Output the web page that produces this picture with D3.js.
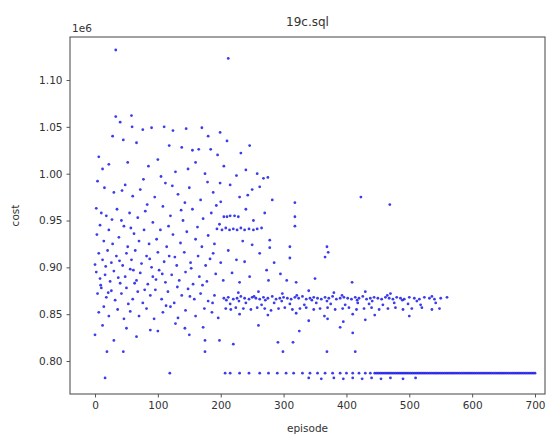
<!DOCTYPE html>
<html>
<head>
<meta charset="utf-8">
<script src="https://cdn.jsdelivr.net/npm/d3@7"></script>
<style>
  html, body { margin: 0; padding: 0; background: #fff; }
  svg { display: block; }
  text { font-family: "DejaVu Sans", sans-serif; fill: #333; }
</style>
</head>
<body>
<svg id="chart" width="547" height="439"></svg>
<script>
// Query plan cost per training episode, in millions (axis offset 1e6).
const chartTitle = "19c.sql";
const xLabel = "episode";
const yLabel = "cost";
const xTicks = [0, 100, 200, 300, 400, 500, 600, 700];
const yTicks = [0.80, 0.85, 0.90, 0.95, 1.00, 1.05, 1.10];

// Early exploration: widely scattered costs.
const exploration = [
  [33,1.132],[212,1.123],
  [33,1.061],[58,1.062],[40,1.055],[59,1.050],[76,1.047],[90,1.049],[110,1.050],[124,1.046],[145,1.048],[170,1.049],[180,1.040],[199,1.044],[210,1.035],
  [28,1.040],[45,1.036],[66,1.033],[118,1.030],[138,1.028],[155,1.025],[165,1.026],[184,1.026],[195,1.020],[232,1.022],[246,1.030],
  [6,1.018],[12,1.005],[22,1.010],[52,1.012],[85,1.008],[100,1.015],[128,1.002],[148,1.005],[160,1.012],[175,1.000],[205,1.008],[225,0.998],[240,1.004],[258,1.000],[268,0.995],[105,0.997],[275,0.996],
  [4,0.992],[15,0.985],[30,0.980],[48,0.988],[60,0.976],[72,0.983],[95,0.975],[112,0.990],[132,0.978],[150,0.985],[168,0.972],[188,0.980],[199,0.990],[200,0.970],[215,0.988],[230,0.975],[250,0.983],[262,0.986],[282,0.972],[318,0.969],[423,0.975],[469,0.967],
  [2,0.963],[10,0.958],[18,0.955],[35,0.962],[42,0.950],[55,0.958],[68,0.953],[80,0.960],[92,0.948],[108,0.965],[120,0.955],[140,0.950],[155,0.962],[172,0.952],[185,0.958],[198,0.946],[205,0.954],[210,0.954],[215,0.955],[222,0.955],[228,0.954],[240,0.962],[252,0.950],[270,0.958],[318,0.954],
  [194,0.941],[202,0.940],[208,0.942],[214,0.940],[220,0.941],[226,0.940],[232,0.942],[238,0.940],[245,0.941],[252,0.940],[258,0.941],[265,0.942],[318,0.944],
  [3,0.935],[8,0.945],[14,0.928],[22,0.940],[28,0.925],[38,0.932],[46,0.944],[52,0.922],[62,0.936],[70,0.928],[78,0.940],[86,0.925],[98,0.930],[104,0.940],[114,0.922],[124,0.935],[136,0.926],[146,0.938],[160,0.930],[170,0.922],[180,0.934],[190,0.925],[235,0.928],[250,0.924],[278,0.929],[278,0.921],[310,0.922],[369,0.922],
  [0,0.903],[6,0.915],[12,0.908],[20,0.918],[26,0.905],[34,0.912],[44,0.902],[50,0.915],[58,0.908],[64,0.918],[74,0.904],[82,0.912],[90,0.900],[100,0.916],[110,0.906],[118,0.912],[130,0.902],[142,0.916],[152,0.905],[164,0.912],[176,0.902],[188,0.915],[200,0.905],[212,0.918],[225,0.908],[238,0.906],[262,0.915],[285,0.905],[310,0.910],[366,0.911],[371,0.916],
  [2,0.895],[8,0.888],[16,0.892],[24,0.885],[30,0.896],[40,0.883],[48,0.890],[56,0.898],[66,0.886],[72,0.894],[84,0.882],[92,0.890],[102,0.897],[112,0.884],[122,0.892],[134,0.886],[144,0.895],[156,0.882],[166,0.890],[178,0.885],[192,0.893],[204,0.886],[218,0.894],[230,0.884],[246,0.890],[273,0.897],[276,0.886],[295,0.893],[305,0.886],[320,0.884],[350,0.888],[409,0.884],
  [4,0.872],[10,0.878],[18,0.868],[26,0.875],[32,0.865],[42,0.872],[50,0.878],[60,0.866],[68,0.874],[76,0.862],[88,0.870],[96,0.876],[106,0.866],[116,0.874],[126,0.862],[138,0.870],[148,0.877],[158,0.866],[168,0.872],[180,0.864],[190,0.870],
  [6,0.852],[14,0.858],[22,0.848],[36,0.855],[46,0.845],[56,0.853],[70,0.848],[82,0.856],[94,0.845],[108,0.852],[120,0.858],[132,0.846],[144,0.854],[160,0.848],[174,0.856],[186,0.852],[196,0.846],
  [12,0.838],[0,0.828],[30,0.822],[50,0.835],[66,0.826],[88,0.833],[100,0.832],[128,0.840],[143,0.835],[150,0.828],[172,0.836],[175,0.822],[198,0.822],[220,0.818],[260,0.838],[291,0.820],[315,0.820],[325,0.832],[390,0.836],[410,0.830],
  [19,0.810],[45,0.810],[175,0.810],[299,0.810],[369,0.810],[414,0.810],
  [16,0.782],[119,0.787],[207,0.787],
  // extra scatter in the crowded early region
  [9,0.881],[21,0.873],[37,0.889],[53,0.861],[63,0.883],[79,0.876],[97,0.887],[113,0.859],[131,0.879],[151,0.869],[171,0.881],[187,0.862],
  [17,0.901],[39,0.907],[61,0.897],[87,0.909],[107,0.893],[127,0.911],[153,0.899],[183,0.909],
  [27,0.951],[57,0.942],[83,0.967],[117,0.944],[137,0.961],[163,0.943],[193,0.966],
  [43,0.982],[77,0.994],[123,0.987],[143,0.969],[179,0.991],[243,0.977]
];

// Plateau: the dense band around 0.85–0.87.
const plateau = [
  [205,0.867],[212,0.868],[220,0.866],[226,0.867],[232,0.869],[238,0.867],[245,0.866],[250,0.868],[256,0.867],[262,0.866],[268,0.868],[275,0.867],[282,0.869],[288,0.866],[294,0.867],[300,0.868],[306,0.867],[312,0.866],[318,0.868],[324,0.867],[330,0.869],[336,0.866],[342,0.867],[348,0.868],[354,0.867],[360,0.866],[366,0.868],[372,0.867],[378,0.869],[384,0.866],[390,0.867],[396,0.868],[402,0.867],[408,0.866],[414,0.868],[420,0.867],[426,0.869],[432,0.866],[438,0.867],[444,0.868],[450,0.867],[456,0.866],[462,0.868],[468,0.867],[474,0.866],[480,0.868],[486,0.867],[492,0.866],[500,0.868],[508,0.867],[516,0.866],[524,0.868],[532,0.867],[540,0.866],[550,0.867],[560,0.868],
  [209,0.865],[229,0.864],[253,0.869],[271,0.865],[297,0.864],[321,0.870],[345,0.865],[369,0.864],[393,0.870],[417,0.865],[441,0.864],[465,0.870],[489,0.865],[512,0.864],[536,0.869],
  [208,0.856],[216,0.855],[224,0.857],[236,0.856],[248,0.855],[258,0.857],[270,0.856],[280,0.854],[292,0.856],[302,0.857],[314,0.855],[326,0.856],[336,0.857],[348,0.855],[358,0.856],[370,0.857],[382,0.855],[394,0.856],[404,0.857],[416,0.855],[428,0.856],[440,0.857],[452,0.855],[466,0.856],[478,0.857],[490,0.855],[504,0.856],[520,0.857],[536,0.855],[548,0.856],
  [215,0.861],[240,0.862],[265,0.860],[285,0.862],[310,0.861],[333,0.860],[352,0.862],[375,0.861],[398,0.860],[418,0.862],[436,0.861],[458,0.860],[476,0.862],[498,0.861],[518,0.860],[542,0.862],
  [228,0.873],[260,0.874],[298,0.872],[340,0.875],[380,0.873],[430,0.874],[470,0.872],
  [230,0.850],[275,0.849],[320,0.851],[365,0.848],[410,0.850],[445,0.849],[500,0.848],
  [340,0.843],[370,0.845],[395,0.842],[430,0.844]
];

// Converged: the plan settles at about 0.787.
const converged = [
  [215,0.787],[230,0.787],[245,0.787],[262,0.787],[276,0.787],[290,0.787],[304,0.787],[316,0.787],[330,0.787],[342,0.787],[354,0.787],[366,0.787],[378,0.787],[390,0.787],[400,0.787],[410,0.787],[420,0.787],[430,0.787],[438,0.787],
  [445,0.787],[448,0.787],[451,0.787],[454,0.787],[457,0.787],[460,0.787],[463,0.787],[466,0.787],[469,0.787],[472,0.787],[475,0.787],[478,0.787],[481,0.787],[484,0.787],[487,0.787],[490,0.787],[493,0.787],[496,0.787],[499,0.787],[502,0.787],[505,0.787],[508,0.787],[511,0.787],[514,0.787],[517,0.787],[520,0.787],[523,0.787],[526,0.787],[529,0.787],[532,0.787],[535,0.787],[538,0.787],[541,0.787],[544,0.787],[547,0.787],[550,0.787],[553,0.787],[556,0.787],[559,0.787],[562,0.787],[565,0.787],[568,0.787],[571,0.787],[574,0.787],[577,0.787],[580,0.787],[583,0.787],[586,0.787],[589,0.787],[592,0.787],[595,0.787],[598,0.787],[601,0.787],[604,0.787],[607,0.787],[610,0.787],[613,0.787],[616,0.787],[619,0.787],[622,0.787],[625,0.787],[628,0.787],[631,0.787],[634,0.787],[637,0.787],[640,0.787],[643,0.787],[646,0.787],[649,0.787],[652,0.787],[655,0.787],[658,0.787],[661,0.787],[664,0.787],[667,0.787],[670,0.787],[673,0.787],[676,0.787],[679,0.787],[682,0.787],[685,0.787],[688,0.787],[691,0.787],[694,0.787],[697,0.787],[700,0.787],
  [340,0.782],[360,0.781],[380,0.782],[395,0.781],[410,0.782],[425,0.781],[440,0.782],[455,0.781],[470,0.782],[490,0.781],[510,0.782]
];

const svg = d3.select("#chart");
const plot = { left: 70, right: 545, top: 37, bottom: 394 };

const x = d3.scaleLinear().domain([-39.8, 715.9]).range([plot.left, plot.right]);
const y = d3.scaleLinear().domain([0.7648, 1.1459]).range([plot.bottom, plot.top]);

svg.append("rect").attr("width", 547).attr("height", 439).attr("fill", "#fff");

// Points
const allPoints = exploration.concat(plateau, converged);
svg.append("g").selectAll("circle")
  .data(allPoints)
  .join("circle")
  .attr("cx", d => x(d[0]))
  .attr("cy", d => y(d[1]))
  .attr("r", 1.4)
  .attr("fill", "#1a1ae6")
  .attr("fill-opacity", 0.85);

// Axes
const xAxis = d3.axisBottom(x).tickValues(xTicks).tickSize(3.5).tickPadding(4).tickFormat(d3.format("d"));
const yAxis = d3.axisLeft(y).tickValues(yTicks).tickSize(3.5).tickPadding(4).tickFormat(d3.format(".2f"));

const gx = svg.append("g").attr("transform", `translate(0,${plot.bottom})`).call(xAxis);
const gy = svg.append("g").attr("transform", `translate(${plot.left},0)`).call(yAxis);
[gx, gy].forEach(g => {
  g.select(".domain").remove();
  g.selectAll(".tick line").attr("stroke", "#555").attr("stroke-width", 1);
  g.selectAll(".tick text").style("font-size", "10.5px").attr("fill", "#333");
});

// Frame
svg.append("rect")
  .attr("x", plot.left).attr("y", plot.top)
  .attr("width", plot.right - plot.left).attr("height", plot.bottom - plot.top)
  .attr("fill", "none").attr("stroke", "#555").attr("stroke-width", 1.1);

// Texts
svg.append("text").attr("x", (plot.left + plot.right) / 2).attr("y", 26)
  .attr("text-anchor", "middle").style("font-size", "12px").text(chartTitle);
svg.append("text").attr("x", (plot.left + plot.right) / 2).attr("y", 432)
  .attr("text-anchor", "middle").style("font-size", "10.5px").text(xLabel);
svg.append("text").attr("transform", `translate(19,${(plot.top + plot.bottom) / 2}) rotate(-90)`)
  .attr("text-anchor", "middle").style("font-size", "10.5px").text(yLabel);
svg.append("text").attr("x", plot.left + 2).attr("y", 32)
  .style("font-size", "10.5px").text("1e6");
</script>
</body>
</html>
